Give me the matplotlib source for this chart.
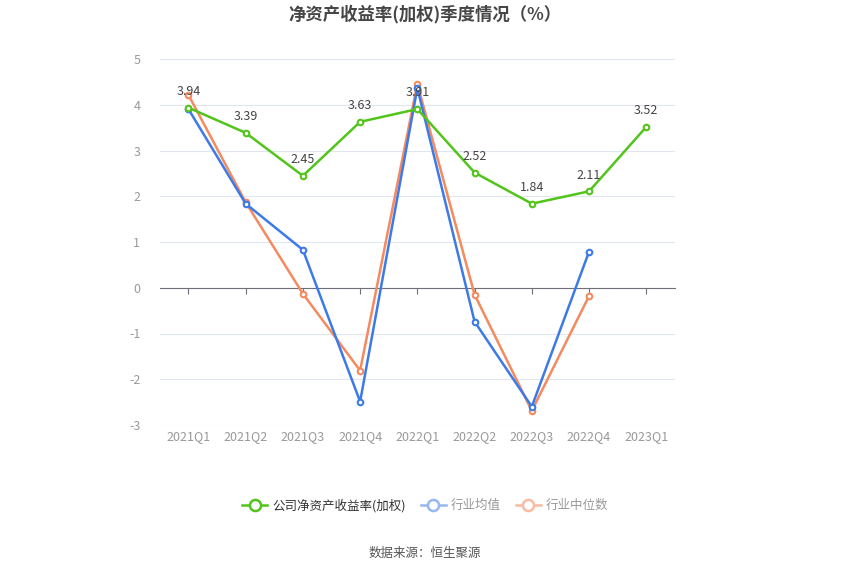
import matplotlib
matplotlib.use("Agg")
import matplotlib.pyplot as plt
from matplotlib.lines import Line2D

plt.rcParams['font.family'] = ['Noto Sans CJK SC', 'DejaVu Sans']
plt.rcParams['axes.unicode_minus'] = False

quarters = ["2021Q1", "2021Q2", "2021Q3", "2021Q4", "2022Q1", "2022Q2", "2022Q3", "2022Q4", "2023Q1"]
company = [3.94, 3.39, 2.45, 3.63, 3.91, 2.52, 1.84, 2.11, 3.52]
industry_avg = [3.91, 1.84, 0.83, -2.49, 4.37, -0.74, -2.60, 0.79]
industry_med = [4.22, 1.87, -0.13, -1.81, 4.46, -0.15, -2.69, -0.18]

GREEN = "#52c41a"
BLUE = "#3d7ae8"
ORANGE = "#f58a5e"

fig = plt.figure(figsize=(8.5, 5.75), dpi=100)
ax = fig.add_axes([0.188, 0.261, 0.606, 0.636])

x = list(range(len(quarters)))
mk = dict(marker='o', markersize=4, markerfacecolor='white', markeredgewidth=1.5)
ax.plot(x[:len(industry_med)], industry_med, color=ORANGE, lw=1.8, markeredgecolor=ORANGE, zorder=3, **mk)
ax.plot(x[:len(industry_avg)], industry_avg, color=BLUE, lw=1.8, markeredgecolor=BLUE, zorder=4, **mk)
ax.plot(x, company, color=GREEN, lw=1.8, markeredgecolor=GREEN, zorder=5, **mk)

for xi, v in zip(x, company):
    ax.annotate(f"{v:.2f}", (xi, v), xytext=(0, 7), textcoords='offset points',
                ha='center', va='bottom', fontsize=9, color='#444444', zorder=6)

ax.set_xlim(-0.5, len(quarters) - 0.5)
ax.set_ylim(-3, 5)
ax.set_yticks(range(-3, 6))
ax.tick_params(axis='y', length=0, labelsize=9, labelcolor='#999999', pad=14)
ax.grid(axis='y', color='#e0e6f1', lw=0.8)
ax.set_axisbelow(True)
for s in ['left', 'right', 'top']:
    ax.spines[s].set_visible(False)

# x axis line drawn at zero, labels at the bottom
ax.spines['bottom'].set_position(('data', 0))
ax.spines['bottom'].set_color('#6e7079')
ax.set_xticks(x)
ax.tick_params(axis='x', direction='out', length=4, color='#6e7079', labelbottom=False)
sec = ax.secondary_xaxis('bottom')
sec.set_xticks(x)
sec.set_xticklabels(quarters)
sec.tick_params(length=0, labelsize=9, labelcolor='#999999', pad=4)
sec.spines['bottom'].set_visible(False)

fig.text(0.5, 0.975, "净资产收益率(加权)季度情况（%）", ha='center', va='center',
         fontsize=12.5, fontweight='bold', color='#464646')

handles = [
    Line2D([], [], color=GREEN, lw=1.8, marker='o', markersize=8, markerfacecolor='white', markeredgewidth=1.8),
    Line2D([], [], color='#97b7f1', lw=1.8, marker='o', markersize=8, markerfacecolor='white', markeredgewidth=1.8),
    Line2D([], [], color='#f9bba1', lw=1.8, marker='o', markersize=8, markerfacecolor='white', markeredgewidth=1.8),
]
leg = fig.legend(handles, ["公司净资产收益率(加权)", "行业均值", "行业中位数"], loc='center',
                 bbox_to_anchor=(0.5, 0.121), ncol=3, frameon=False, fontsize=9,
                 handlelength=2.0, handletextpad=0.4, columnspacing=1.2)
for t, c in zip(leg.get_texts(), ['#333333', '#999999', '#999999']):
    t.set_color(c)

fig.text(0.5, 0.038, "数据来源：恒生聚源", ha='center', va='center', fontsize=9, color='#555555')

fig.savefig("out.png", dpi=100)
